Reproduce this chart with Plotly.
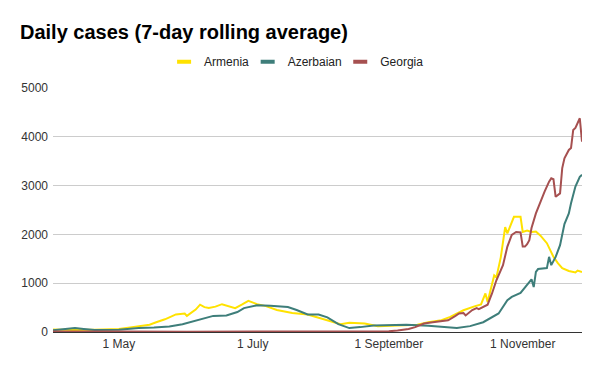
import plotly.graph_objects as go

title_text = "Daily cases (7-day rolling average)"

armenia_dates = ["2020-04-01", "2020-04-10", "2020-04-20", "2020-05-01", "2020-05-07", "2020-05-15",
                 "2020-05-18", "2020-05-22", "2020-05-27", "2020-05-31", "2020-06-01", "2020-06-05",
                 "2020-06-07", "2020-06-09", "2020-06-11", "2020-06-14", "2020-06-17", "2020-06-20",
                 "2020-06-23", "2020-06-26", "2020-06-29", "2020-07-03", "2020-07-07", "2020-07-12",
                 "2020-07-19", "2020-07-26", "2020-07-30", "2020-08-04", "2020-08-10", "2020-08-14",
                 "2020-08-21", "2020-08-27", "2020-09-05", "2020-09-14", "2020-09-19", "2020-09-25",
                 "2020-09-29", "2020-10-05", "2020-10-10", "2020-10-13", "2020-10-15", "2020-10-16",
                 "2020-10-19", "2020-10-20", "2020-10-22", "2020-10-24", "2020-10-25", "2020-10-28",
                 "2020-10-31", "2020-11-01", "2020-11-03", "2020-11-05", "2020-11-07", "2020-11-09",
                 "2020-11-12", "2020-11-15", "2020-11-17", "2020-11-19", "2020-11-22", "2020-11-25",
                 "2020-11-26", "2020-11-28"]
armenia_values = [50, 40, 45, 60, 100, 150,
                  200, 260, 360, 380, 330, 460,
                  560, 510, 490, 520, 570, 530,
                  490, 560, 640, 570, 530, 450,
                  390, 360, 310, 240, 160, 190,
                  175, 120, 130, 150, 200, 240,
                  310, 445, 525, 565, 790, 615,
                  1160, 1120, 1530, 2150, 2020, 2360,
                  2360, 2050, 2080, 2050, 2060, 1980,
                  1820, 1540, 1410, 1310, 1250, 1220,
                  1260, 1230]

azerbaijan_dates = ["2020-04-01", "2020-04-06", "2020-04-11", "2020-04-15", "2020-04-20", "2020-05-01",
                    "2020-05-10", "2020-05-17", "2020-05-24", "2020-05-30", "2020-06-07", "2020-06-13",
                    "2020-06-19", "2020-06-24", "2020-06-27", "2020-07-03", "2020-07-09", "2020-07-17",
                    "2020-07-21", "2020-07-26", "2020-07-31", "2020-08-04", "2020-08-09", "2020-08-14",
                    "2020-08-19", "2020-08-25", "2020-09-09", "2020-09-19", "2020-10-02", "2020-10-08",
                    "2020-10-14", "2020-10-21", "2020-10-25", "2020-10-27", "2020-10-31", "2020-11-02",
                    "2020-11-05", "2020-11-06", "2020-11-07", "2020-11-08", "2020-11-12", "2020-11-13",
                    "2020-11-14", "2020-11-16", "2020-11-18", "2020-11-20", "2020-11-22", "2020-11-23",
                    "2020-11-25", "2020-11-27", "2020-11-28"]
azerbaijan_values = [35, 60, 80, 60, 40, 45,
                     80, 90, 115, 160, 255, 330,
                     340, 410, 490, 550, 540, 510,
                     450, 360, 360, 300, 160, 80,
                     100, 135, 150, 130, 80, 120,
                     200, 380, 650, 720, 800, 920,
                     1080, 920, 1230, 1290, 1310, 1540,
                     1370, 1540, 1780, 2210, 2430, 2640,
                     2980, 3180, 3220]

georgia_dates = ["2020-04-01", "2020-04-15", "2020-05-01", "2020-06-01", "2020-07-01", "2020-07-30",
                 "2020-08-20", "2020-09-01", "2020-09-05", "2020-09-10", "2020-09-13", "2020-09-17",
                 "2020-09-21", "2020-09-25", "2020-09-28", "2020-10-01", "2020-10-03", "2020-10-05",
                 "2020-10-06", "2020-10-09", "2020-10-11", "2020-10-12", "2020-10-14", "2020-10-16",
                 "2020-10-18", "2020-10-20", "2020-10-23", "2020-10-25", "2020-10-27", "2020-10-29",
                 "2020-10-31", "2020-11-01", "2020-11-02", "2020-11-03", "2020-11-04", "2020-11-05",
                 "2020-11-07", "2020-11-09", "2020-11-11", "2020-11-13", "2020-11-14", "2020-11-15",
                 "2020-11-16", "2020-11-18", "2020-11-19", "2020-11-20", "2020-11-22", "2020-11-23",
                 "2020-11-24", "2020-11-25", "2020-11-27", "2020-11-28"]
georgia_values = [10, 15, 10, 5, 5, 15,
                  5, 15, 30, 60, 100, 175,
                  200, 220, 240, 320, 380, 390,
                  340, 450, 490, 470, 510, 560,
                  790, 1060, 1370, 1750, 1990, 2050,
                  2040, 1750, 1750, 1800, 1880, 2130,
                  2430, 2670, 2880, 3080, 3150, 3130,
                  2770, 2840, 3360, 3560, 3730, 3770,
                  4140, 4180, 4380, 3900]

tick_dates = ["2020-05-01", "2020-07-01", "2020-09-01", "2020-11-01"]
tick_labels = ["1 May", "1 July", "1 September", "1 November"]
y_ticks = [0, 1000, 2000, 3000, 4000, 5000]

series = [
    ("Armenia", armenia_dates, armenia_values, "#FFE200", "legend", 0.2100),
    ("Azerbaian", azerbaijan_dates, azerbaijan_values, "#3E7E7A", "legend2", 0.3680),
    ("Georgia", georgia_dates, georgia_values, "#A65050", "legend3", 0.5430),
]

fig = go.Figure()
for name, xs, ys, color, lg, lx in series:
    fig.add_trace(go.Scatter(x=xs, y=ys, mode="lines", name=name, showlegend=False,
                             line=dict(color=color, width=2)))
for name, xs, ys, color, lg, lx in series:
    fig.add_trace(go.Scatter(x=[None], y=[None], mode="markers", name=name, showlegend=True,
                             legend=lg,
                             marker=dict(symbol="line-ew", size=10,
                                         line=dict(color=color, width=4))))

font_family = "Arial, 'Liberation Sans', sans-serif"
legend_common = dict(orientation="h", xanchor="left", y=1.108, yanchor="middle",
                     font=dict(size=12, color="#222222", family=font_family),
                     itemwidth=30, bgcolor="rgba(0,0,0,0)")
fig.update_layout(
    width=600, height=371,
    margin=dict(l=53, r=18, t=88, b=39),
    paper_bgcolor="white", plot_bgcolor="white",
    font=dict(family=font_family, size=12, color="#444444"),
    title=dict(text="<b>" + title_text + "</b>", x=0.0333, xanchor="left", y=0.915, yanchor="middle",
               font=dict(size=20, color="#000000", family=font_family)),
    legend=dict(x=series[0][5], **legend_common),
    legend2=dict(x=series[1][5], **legend_common),
    legend3=dict(x=series[2][5], **legend_common),
    xaxis=dict(range=["2020-04-01", "2020-11-28"], tickvals=tick_dates, ticktext=tick_labels,
               showgrid=False, showline=False, zeroline=False, ticks="", ticklabelstandoff=3,
               tickfont=dict(size=12, color="#333333")),
    yaxis=dict(range=[0, 5000], tickvals=y_ticks, showgrid=True, gridcolor="#cccccc", gridwidth=1,
               zeroline=True, zerolinecolor="#333333", zerolinewidth=1, ticks="",
               ticklabelstandoff=4, tickfont=dict(size=12, color="#333333")),
)

fig.write_html("out.html", config={"displayModeBar": False},
               post_script="document.body.style.margin='0';")
